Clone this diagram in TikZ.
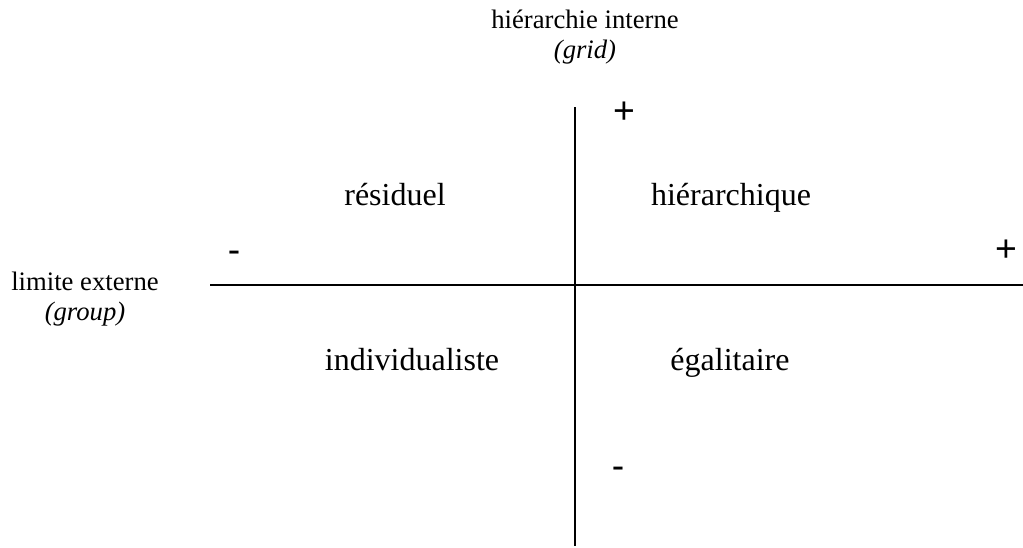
\documentclass[tikz,border=0pt]{standalone}
\usepackage{fontspec}
\setmainfont{Liberation Serif}[ItalicFont={Liberation Serif Italic}]
\newfontfamily\signfont{Liberation Sans}
\begin{document}
\begin{tikzpicture}[x=0.75pt,y=-0.75pt,
  axis/.style={line width=1.5pt},
  small/.style={font=\fontsize{20}{22}\selectfont, inner sep=0pt, anchor=base},
  big/.style={font=\fontsize{24}{26}\selectfont, inner sep=0pt, anchor=base},
  sign/.style={font=\signfont\fontsize{28}{30}\selectfont, inner sep=0pt, anchor=base}]
\useasboundingbox (0,0) rectangle (1023,547);
\coordinate (vtop) at (575,107);
\coordinate (vbot) at (575,546);
\coordinate (hl) at (210,285);
\coordinate (hr) at (1023,285);
\draw[axis] (vtop) -- (vbot);
\draw[axis] (hl) -- (hr);
\node[small] (gridt) at (585,28) {hiérarchie interne};
\node[small] (grid) at (585,58) {\itshape (grid)};
\node[small] (groupt) at (85,290) {limite externe};
\node[small] (group) at (85,320) {\itshape (group)};
\node[big] (res) at (395,205) {résiduel};
\node[big] (hie) at (731,205) {hiérarchique};
\node[big] (ind) at (412,370) {individualiste};
\node[big] (ega) at (730,370) {égalitaire};
\node[sign] (p1) at (624,123) {+};
\node[sign] (m1) at (234,262) {-};
\node[sign] (p2) at (1006,261) {+};
\node[sign] (m2) at (618,478) {-};
\end{tikzpicture}
\end{document}
